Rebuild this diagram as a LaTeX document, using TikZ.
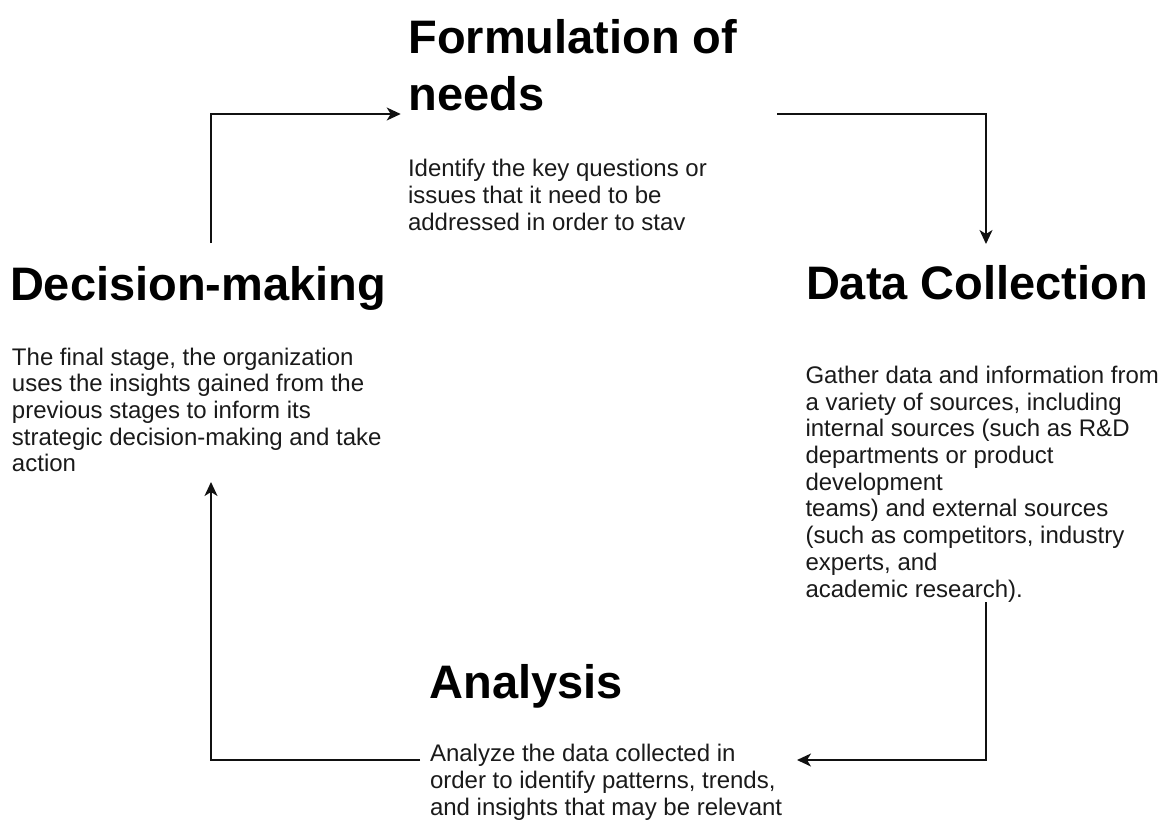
\documentclass[tikz,border=0pt]{standalone}
\usepackage{fontspec}
\setmainfont{Liberation Sans}
\usetikzlibrary{arrows.meta}
\definecolor{ink}{HTML}{111111}
\definecolor{bodyink}{HTML}{1A1A1A}
% each text node is placed by the baseline of its last line
\tikzset{
  stagetitle/.style={anchor=base west, inner sep=0pt, outer sep=0pt, align=left,
    font=\fontsize{47}{56.7}\selectfont\bfseries, text=black},
  stagetext/.style={anchor=base west, inner sep=0pt, outer sep=0pt, align=left,
    font=\fontsize{24}{26.7}\selectfont, text=bodyink},
  flow/.style={draw=ink, line width=1.6pt,
    -{Stealth[length=14pt, width=13pt, inset=4pt]}}
}
\begin{document}
\begin{tikzpicture}[x=1pt, y=-1pt]
  \useasboundingbox (0,0) rectangle (1175,823);

  % stage 1: formulation of needs (top)
  \node[stagetitle] (fntitle) at (408.3,110) {Formulation of\\needs};
  \node[stagetext] (fntext) at (408,230)
    {Identify the key questions or\\issues that it need to be\\addressed in order to stav};

  % stage 2: data collection (right)
  \node[stagetitle] (dctitle) at (806,299) {Data Collection};
  \node[stagetext] (dctext) at (805.5,597)
    {Gather data and information from\\a variety of sources, including\\internal sources (such as R\&D\\departments or product\\development\\teams) and external sources\\(such as competitors, industry\\experts, and\\academic research).};

  % stage 3: analysis (bottom)
  \node[stagetitle] (antitle) at (429.5,698.3) {Analysis};
  \node[stagetext] (antext) at (430,815.1)
    {Analyze the data collected in\\order to identify patterns, trends,\\and insights that may be relevant};

  % stage 4: decision-making (left)
  \node[stagetitle] (dmtitle) at (10,300) {Decision-making};
  \node[stagetext] (dmtext) at (12,471.8)
    {The final stage, the organization\\uses the insights gained from the\\previous stages to inform its\\strategic decision-making and take\\action};

  % connector end points around the cycle
  \coordinate (dmout) at (211,243);
  \coordinate (fnin)  at (400.7,114);
  \coordinate (fnout) at (777,114);
  \coordinate (dcin)  at (986,244);
  \coordinate (dcout) at (986,602);
  \coordinate (anin)  at (797,760);
  \coordinate (anout) at (420,760);
  \coordinate (dmin)  at (211,482);

  \draw[flow] (dmout) |- (fnin);
  \draw[flow] (fnout) -| (dcin);
  \draw[flow] (dcout) |- (anin);
  \draw[flow] (anout) -| (dmin);
\end{tikzpicture}
\end{document}
